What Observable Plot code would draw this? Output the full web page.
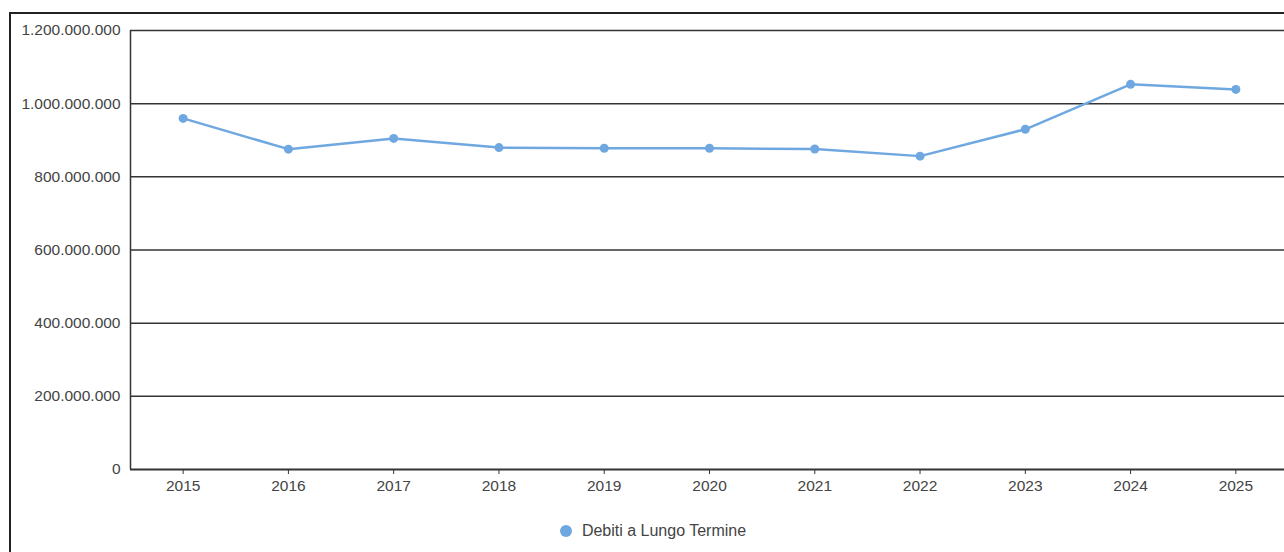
<!DOCTYPE html>
<html>
<head>
<meta charset="utf-8">
<script src="https://cdn.jsdelivr.net/npm/d3@7"></script>
<script src="https://cdn.jsdelivr.net/npm/@observablehq/plot@0.6"></script>
<style>
  html, body { margin: 0; padding: 0; background: #fff; overflow: hidden; }
  body { width: 1284px; height: 552px; position: relative; font-family: "Liberation Sans", Arial, sans-serif; }
  #frame { position: absolute; left: 9px; top: 12px; width: 1400px; height: 700px; border: 2px solid #222; pointer-events: none; }
  #chart { position: absolute; left: 0; top: 0; }
  #legend { position: absolute; left: 0; top: 500px; width: 1284px; height: 52px; display: flex; justify-content: center; align-items: center; }
  .item { display: flex; align-items: center; font-size: 16px; color: #444; margin-left: 22px; margin-top: 10px; }
  .sw { width: 12px; height: 12px; border-radius: 50%; background: #6fa8e0; margin-right: 10px; }
</style>
</head>
<body>
<div id="chart"></div>
<div id="legend"></div>
<div id="frame"></div>
<script>
const years = [2015, 2016, 2017, 2018, 2019, 2020, 2021, 2022, 2023, 2024, 2025];
const debiti = [959.7e6, 875.7e6, 905e6, 880e6, 878e6, 878e6, 876e6, 856.6e6, 930e6, 1052.8e6, 1039e6];
const yTicks = [0, 200e6, 400e6, 600e6, 800e6, 1000e6, 1200e6];
const seriesName = "Debiti a Lungo Termine";
const color = "#6fa8e0";

const data = years.map((y, i) => ({year: y, value: debiti[i]}));
const fmt = d => d3.format(",")(d).replace(/,/g, ".");

const chart = Plot.plot({
  width: 1284,
  height: 500,
  marginLeft: 130,
  marginRight: 0,
  marginTop: 30,
  marginBottom: 31,
  style: {fontFamily: '"Liberation Sans", Arial, sans-serif', fontSize: "15.5px", color: "#444", background: "transparent", overflow: "visible"},
  x: {domain: [2014.5, 2025.5], range: [130, 1288]},
  y: {domain: [0, 1.2e9]},
  marks: [
    Plot.ruleY(yTicks.filter(d => d > 0), {y: d => d, stroke: "#333", strokeWidth: 1.5, strokeOpacity: 1}),
    Plot.ruleY([0], {stroke: "#333", strokeWidth: 2}),
    Plot.ruleX([2014.5], {stroke: "#333", strokeWidth: 1.5}),
    Plot.line(data, {x: "year", y: "value", stroke: color, strokeWidth: 2.5}),
    Plot.dot(data, {x: "year", y: "value", fill: color, r: 4.5}),
    Plot.axisX(years, {tickFormat: d => String(d), tickSize: 5, tickPadding: 5, label: null, stroke: "#333", fill: "#444"}),
    Plot.axisY(yTicks, {tickFormat: fmt, tickSize: 0, tickPadding: 10, label: null, fill: "#444"})
  ]
});
document.getElementById("chart").appendChild(chart);

const legend = document.getElementById("legend");
const item = document.createElement("div");
item.className = "item";
item.innerHTML = `<span class="sw"></span><span>${seriesName}</span>`;
legend.appendChild(item);
</script>
</body>
</html>
